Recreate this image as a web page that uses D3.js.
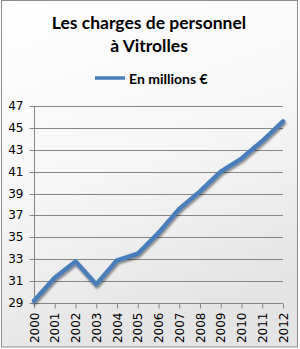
<!DOCTYPE html>
<html>
<head>
<meta charset="utf-8">
<script src="https://cdn.jsdelivr.net/npm/d3@7"></script>
<style>
  html, body { margin: 0; padding: 0; background: #fff; }
  #chart { width: 300px; height: 349px; }
</style>
</head>
<body>
<div id="chart"></div>
<script>
// Données
const titre = ["Les charges de personnel", "à Vitrolles"];
const serieNom = "En millions €";
const annees = ["2000", "2001", "2002", "2003", "2004", "2005", "2006", "2007", "2008", "2009", "2010", "2011", "2012"];
const valeurs = [29.2, 31.3, 32.8, 30.7, 32.9, 33.5, 35.4, 37.6, 39.2, 41.0, 42.2, 43.8, 45.6];
const ticksY = [29, 31, 33, 35, 37, 39, 41, 43, 45, 47];

document.addEventListener('DOMContentLoaded', () => {
    dessinerGraphique();
});

function dessinerGraphique() {
    const width = 300;
    const height = 349;
    const plot = { left: 34, right: 283, top: 106, bottom: 303 };

    const svg = d3.select("#chart")
        .append("svg")
        .attr("width", width)
        .attr("height", height);

    const defs = svg.append("defs");

    // fond dégradé
    const grad = defs.append("linearGradient")
        .attr("id", "fond")
        .attr("x1", "0").attr("y1", "0")
        .attr("x2", "0.3").attr("y2", "1");
    grad.append("stop").attr("offset", "0%").attr("stop-color", "#ffffff");
    grad.append("stop").attr("offset", "55%").attr("stop-color", "#f6f6f6");
    grad.append("stop").attr("offset", "100%").attr("stop-color", "#e4e4e4");

    // ombre de la courbe
    const ombre = defs.append("filter").attr("id", "ombre")
        .attr("x", "-10%").attr("y", "-10%").attr("width", "120%").attr("height", "130%");
    ombre.append("feGaussianBlur").attr("in", "SourceAlpha").attr("stdDeviation", 1.2);
    ombre.append("feOffset").attr("dx", 1).attr("dy", 2).attr("result", "b");
    ombre.append("feComponentTransfer").append("feFuncA").attr("type", "linear").attr("slope", 0.45);
    const merge = ombre.append("feMerge");
    merge.append("feMergeNode");
    merge.append("feMergeNode").attr("in", "SourceGraphic");

    svg.append("rect")
        .attr("x", 1.5).attr("y", 0.5)
        .attr("width", 296).attr("height", 346.5)
        .attr("fill", "url(#fond)")
        .attr("stroke", "#8c8c8c")
        .attr("stroke-width", 1);

    // Titre
    const t = svg.append("text")
        .attr("text-anchor", "middle")
        .attr("font-family", "Lato, 'Open Sans', sans-serif")
        .attr("font-weight", "bold")
        .attr("font-size", "17.5px")
        .attr("fill", "#000");
    t.append("tspan").attr("x", 149).attr("y", 29).text(titre[0]);
    t.append("tspan").attr("x", 149).attr("y", 51.5).text(titre[1]);

    // Légende
    svg.append("line")
        .attr("x1", 95).attr("x2", 125)
        .attr("y1", 78).attr("y2", 78)
        .attr("stroke", "#4a7ebb")
        .attr("stroke-width", 3.5);
    svg.append("text")
        .attr("x", 129).attr("y", 83.5)
        .attr("font-family", "Lato, 'Open Sans', sans-serif")
        .attr("font-weight", "bold")
        .attr("font-size", "14px")
        .attr("fill", "#000")
        .text(serieNom);

    // Échelles
    const x = d3.scalePoint()
        .domain(annees)
        .range([plot.left, plot.right]);

    const y = d3.scaleLinear()
        .domain([29, 47])
        .range([plot.bottom, plot.top]);

    // Grille horizontale
    svg.append("g")
        .selectAll("line")
        .data(ticksY.slice(1))
        .enter().append("line")
        .attr("x1", plot.left).attr("x2", plot.right)
        .attr("y1", d => Math.round(y(d)) + 0.5)
        .attr("y2", d => Math.round(y(d)) + 0.5)
        .attr("stroke", "#868686")
        .attr("stroke-width", 1);

    // Axe Y
    const axeY = svg.append("g")
        .attr("transform", `translate(${plot.left + 0.5},0)`)
        .call(d3.axisLeft(y).tickValues(ticksY).tickSize(5).tickPadding(6).tickFormat(d3.format("d")));
    axeY.select(".domain").attr("stroke", "#868686").attr("d", `M0,${plot.top}V${plot.bottom}`);
    axeY.selectAll(".tick line").attr("stroke", "#868686");
    axeY.selectAll(".tick").attr("transform", d => `translate(0,${Math.round(y(d)) + 0.5})`);
    axeY.selectAll("text")
        .attr("font-family", "'DejaVu Sans', sans-serif")
        .attr("font-size", "12px")
        .attr("fill", "#000");

    // Axe X
    const axeX = svg.append("g")
        .attr("transform", `translate(0,${Math.round(y(29)) + 0.5})`)
        .call(d3.axisBottom(x).tickSize(5).tickPadding(4));
    axeX.select(".domain").attr("stroke", "#868686").attr("d", `M${plot.left},0H${plot.right}`);
    axeX.selectAll(".tick line").attr("stroke", "#868686");
    axeX.selectAll("text")
        .attr("font-family", "'DejaVu Sans', sans-serif")
        .attr("font-size", "12px")
        .attr("fill", "#000")
        .attr("transform", "rotate(-90)")
        .attr("text-anchor", "end")
        .attr("x", -9)
        .attr("y", 0)
        .attr("dy", "0.35em");

    // Courbe
    const ligne = d3.line()
        .x((d, i) => x(annees[i]))
        .y(d => y(d));

    svg.append("path")
        .datum(valeurs)
        .attr("d", ligne)
        .attr("fill", "none")
        .attr("stroke", "#4a7ebb")
        .attr("stroke-width", 4.5)
        .attr("stroke-linejoin", "round")
        .attr("stroke-linecap", "round")
        .attr("filter", "url(#ombre)");
}
</script>
</body>
</html>
